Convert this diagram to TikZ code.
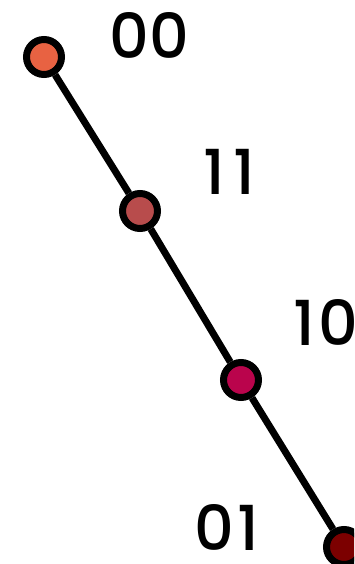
\documentclass[tikz,border=0pt]{standalone}
\usepackage{fontspec}
\setmainfont{Poppins}[UprightFont=* Medium]
\usepackage{xcolor}

\definecolor{cZeroZero}{RGB}{232,98,66}
\definecolor{cOneOne}{RGB}{184,76,76}
\definecolor{cOneZero}{RGB}{186,4,76}
\definecolor{cZeroOne}{RGB}{124,0,0}

\begin{document}
\begin{tikzpicture}[
    x=1pt, y=1pt, yscale=-1, xscale=1,
    every node/.style={inner sep=0pt},
    state/.style={circle, draw=black, line width=7pt, minimum size=35pt},
    code/.style={font=\fontsize{62}{62}\selectfont}
]

\useasboundingbox (0,0) rectangle (354,564);
\clip (0,0) rectangle (354,564);

%==================== States ====================
\node [state, fill=cZeroZero] (s00) at (44,57)   {};
\node [state, fill=cOneOne]   (s11) at (140,211) {};
\node [state, fill=cOneZero]  (s10) at (241,380) {};
\node [state, fill=cZeroOne]  (s01) at (344,547) {};

%==================== Path ====================
\draw [line width=7pt] (s00) -- (s11) ;
\draw [line width=7pt] (s11) -- (s10) ;
\draw [line width=7pt] (s10) -- (s01) ;

%==================== Labels ====================
\node [code] (l00) at (149,36)  {00};
\node [code] (l11) at (229,172) {1\hspace{8pt}1};
\node [code, anchor=west] (l10) at (293,322) {1\hspace{4pt}0};
\node [code] (l01) at (227,527) {0\hspace{4pt}1};

\end{tikzpicture}
\end{document}
